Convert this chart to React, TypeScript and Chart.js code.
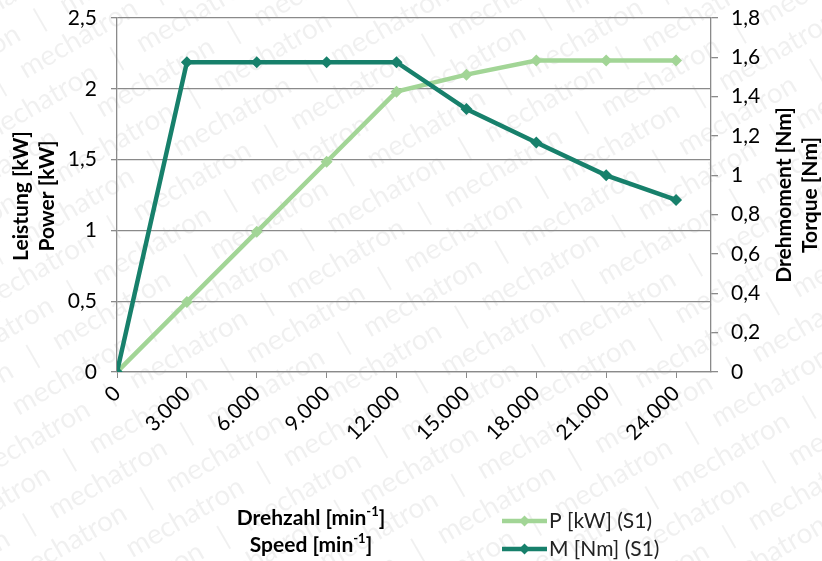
import React, { useEffect, useRef } from 'react';
import { Chart, registerables } from 'chart.js';

Chart.register(...registerables);

// ---- data ----
const speeds = [0, 3000, 6000, 9000, 12000, 15000, 18000, 21000, 24000];
const powerKW = [0, 0.495, 0.99, 1.485, 1.98, 2.1, 2.2, 2.2, 2.2];
const torqueNm = [0, 1.575, 1.575, 1.575, 1.575, 1.337, 1.167, 1.0, 0.875];
const seriesLabels = ['P [kW] (S1)', 'M [Nm] (S1)'];
const seriesColors = ['#a2d596', '#17806b'];
const leftTitle = ['Leistung [kW]', 'Power [kW]'];
const rightTitle = ['Drehmoment [Nm]', 'Torque [Nm]'];
const xTitleLines = [
  ['Drehzahl [min', '-1', ']'],
  ['Speed [min', '-1', ']'],
];
const watermarkWord = 'mechatron';

const FONT = 'Lato, "Open Sans", sans-serif';
const GRID = '#8a8a8a';

const fmtDec = (v: number) => String(Math.round(v * 10) / 10).replace('.', ',');
const fmtThousands = (v: number) =>
  String(Math.round(v)).replace(/\B(?=(\d{3})+(?!\d))/g, '.');

const watermarkPlugin = {
  id: 'watermark',
  beforeDraw(chart: any) {
    const ctx = chart.ctx as CanvasRenderingContext2D;
    const w = chart.width;
    const h = chart.height;
    ctx.save();
    ctx.fillStyle = '#ffffff';
    ctx.fillRect(0, 0, w, h);
    ctx.fillStyle = 'rgba(0,0,0,0.06)';
    ctx.font = `28px ${FONT}`;
    ctx.textBaseline = 'middle';
    const unit = watermarkWord + '   |   ';
    const row = unit.repeat(14);
    ctx.translate(w / 2, h / 2);
    ctx.rotate(-Math.PI / 6);
    const uw = ctx.measureText(unit).width;
    let k = 0;
    for (let y = -700; y <= 700; y += 36) {
      const off = ((k * 0.37) % 1) * uw;
      ctx.fillText(row, -900 - off, y);
      k++;
    }
    ctx.restore();
  },
};

const titlesPlugin = {
  id: 'titles',
  afterDraw(chart: any) {
    const ctx = chart.ctx as CanvasRenderingContext2D;
    ctx.save();
    ctx.fillStyle = '#000';
    ctx.textBaseline = 'middle';
    ctx.textAlign = 'center';
    ctx.font = `bold 21px ${FONT}`;
    // left title
    ctx.save();
    ctx.translate(21, 196);
    ctx.rotate(-Math.PI / 2);
    ctx.fillText(leftTitle[0], 0, 0);
    ctx.fillText(leftTitle[1], 0, 26);
    ctx.restore();
    // right title
    ctx.save();
    ctx.translate(784, 195);
    ctx.rotate(-Math.PI / 2);
    ctx.fillText(rightTitle[0], 0, 0);
    ctx.fillText(rightTitle[1], 0, 26);
    ctx.restore();
    // x title with superscript
    const cx = 311;
    const ys = [518, 545];
    ctx.textAlign = 'left';
    xTitleLines.forEach((parts, i) => {
      ctx.font = `bold 21px ${FONT}`;
      const w0 = ctx.measureText(parts[0]).width;
      const w2 = ctx.measureText(parts[2]).width;
      ctx.font = `bold 13px ${FONT}`;
      const w1 = ctx.measureText(parts[1]).width;
      let x = cx - (w0 + w1 + w2) / 2;
      const y = ys[i];
      ctx.font = `bold 21px ${FONT}`;
      ctx.fillText(parts[0], x, y);
      x += w0;
      ctx.font = `bold 13px ${FONT}`;
      ctx.fillText(parts[1], x, y - 6);
      x += w1;
      ctx.font = `bold 21px ${FONT}`;
      ctx.fillText(parts[2], x, y);
    });
    // legend
    const ly = [521, 549];
    seriesLabels.forEach((lab, i) => {
      const c = seriesColors[i];
      ctx.strokeStyle = c;
      ctx.lineWidth = 4.5;
      ctx.beginPath();
      ctx.moveTo(502, ly[i]);
      ctx.lineTo(547, ly[i]);
      ctx.stroke();
      ctx.fillStyle = c;
      ctx.beginPath();
      const dx = 524.5, r = 5.5;
      ctx.moveTo(dx, ly[i] - r);
      ctx.lineTo(dx + r, ly[i]);
      ctx.lineTo(dx, ly[i] + r);
      ctx.lineTo(dx - r, ly[i]);
      ctx.closePath();
      ctx.fill();
      ctx.fillStyle = '#222';
      ctx.font = `21px ${FONT}`;
      ctx.fillText(lab, 549, ly[i]);
    });
    ctx.restore();
  },
};

const zeroPad = (scale: any) => {
  scale.paddingTop = 0;
  scale.paddingBottom = 0;
  scale.paddingLeft = 0;
  scale.paddingRight = 0;
};

export default function App() {
  const ref = useRef<HTMLCanvasElement | null>(null);
  useEffect(() => {
    if (!ref.current) return;
    const mk = (vals: number[]) => speeds.map((s, i) => ({ x: s, y: vals[i] }));
    const chart = new Chart(ref.current, {
      type: 'line',
      data: {
        datasets: [
          {
            label: seriesLabels[0],
            data: mk(powerKW),
            yAxisID: 'y',
            borderColor: seriesColors[0],
            backgroundColor: seriesColors[0],
            borderWidth: 4.5,
            pointStyle: 'rectRot',
            pointRadius: 6,
            pointBorderWidth: 0,
            order: 1,
          },
          {
            label: seriesLabels[1],
            data: mk(torqueNm),
            yAxisID: 'y1',
            borderColor: seriesColors[1],
            backgroundColor: seriesColors[1],
            borderWidth: 4.5,
            pointStyle: 'rectRot',
            pointRadius: 6,
            pointBorderWidth: 0,
            order: 0,
          },
        ],
      },
      options: {
        responsive: false,
        animation: false,
        layout: { padding: { top: 18, left: 0, right: 0, bottom: 0 } },
        plugins: { legend: { display: false }, tooltip: { enabled: false } },
        scales: {
          x: {
            type: 'linear',
            position: 'bottom',
            min: 0,
            max: 25500,
            afterBuildTicks: (scale: any) => {
              scale.ticks = speeds.map((v) => ({ value: v }));
            },
            afterFit: (scale: any) => {
              scale.height = 189;
              zeroPad(scale);
            },
            grid: { drawOnChartArea: false, color: GRID, tickLength: 6 },
            border: { color: GRID, width: 1.3 },
            ticks: {
              minRotation: 45,
              maxRotation: 45,
              autoSkip: false,
              padding: 3,
              color: '#000',
              font: { family: FONT, size: 21 },
              callback: (v: any) => fmtThousands(Number(v)),
            },
          },
          y: {
            position: 'left',
            min: 0,
            max: 2.5,
            afterFit: (scale: any) => {
              scale.width = 117;
              zeroPad(scale);
            },
            grid: { color: GRID, lineWidth: 1.3, tickLength: 6 },
            border: { color: GRID, width: 1.3 },
            ticks: {
              stepSize: 0.5,
              padding: 14,
              color: '#000',
              font: { family: FONT, size: 21 },
              callback: (v: any) => fmtDec(Number(v)),
            },
          },
          y1: {
            position: 'right',
            min: 0,
            max: 1.8,
            afterFit: (scale: any) => {
              scale.width = 111;
              zeroPad(scale);
            },
            grid: { drawOnChartArea: false, color: GRID, lineWidth: 1.3, tickLength: 7 },
            border: { color: GRID, width: 1.3 },
            ticks: {
              stepSize: 0.2,
              padding: 13,
              color: '#000',
              font: { family: FONT, size: 21 },
              callback: (v: any) => fmtDec(Number(v)),
            },
          },
        },
      },
      plugins: [watermarkPlugin, titlesPlugin],
    });
    return () => chart.destroy();
  }, []);
  return (
    <div style={{ position: 'absolute', left: 0, top: 0, width: 822, height: 561 }}>
      <canvas ref={ref} width={822} height={561} style={{ display: 'block' }} />
    </div>
  );
}
